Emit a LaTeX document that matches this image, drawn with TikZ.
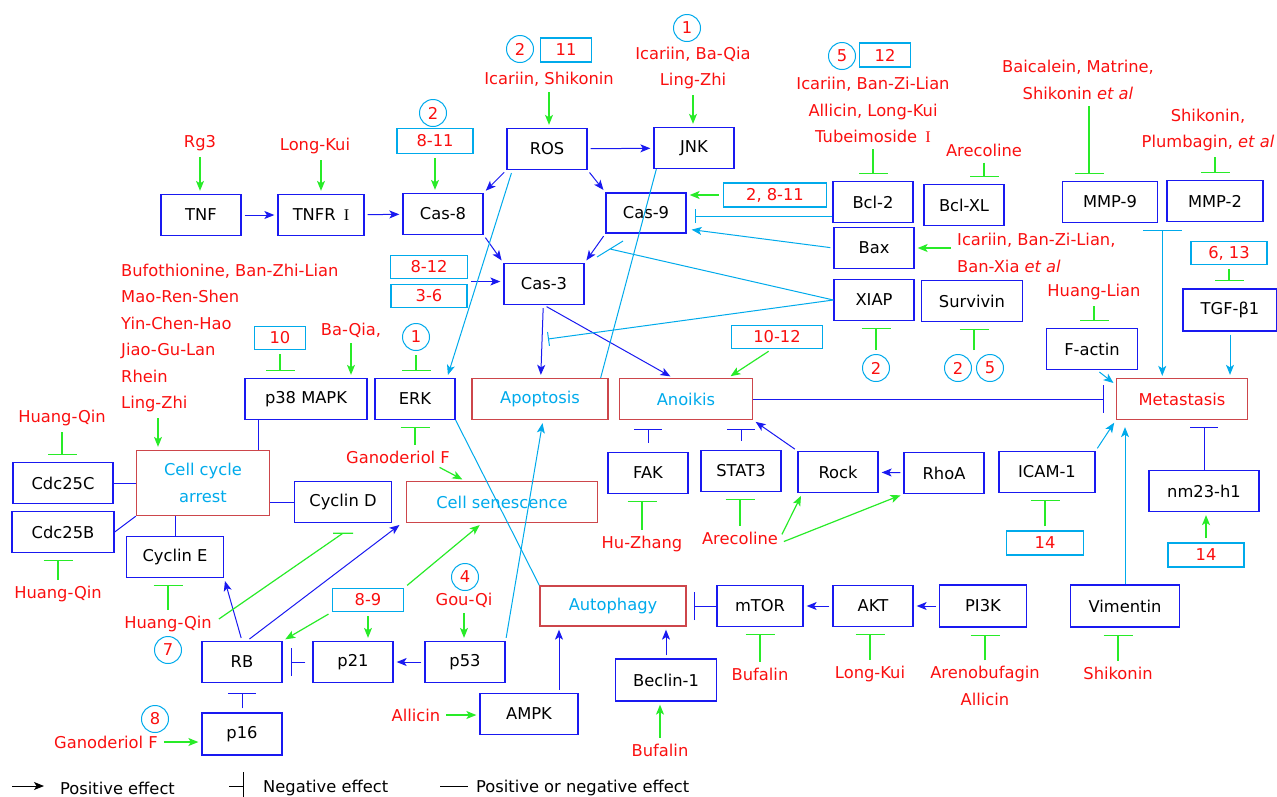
\documentclass[tikz,border=0pt]{standalone}
\usepackage{fontspec}
\setmainfont{DejaVu Sans}
\newfontfamily\romI{Liberation Serif}
\usetikzlibrary{arrows.meta,calc,positioning}
\definecolor{pblue}{RGB}{25,25,240}
\definecolor{lblue}{RGB}{0,170,235}
\definecolor{lgreen}{RGB}{40,235,40}
\definecolor{pred}{RGB}{205,70,75}
\definecolor{dred}{RGB}{250,15,15}

\begin{document}
\begin{tikzpicture}
  [x=1pt,y=-1pt,>={Stealth[length=10pt,width=8pt,inset=2.5pt]},
   every node/.style={font=\fontsize{16.3}{26.5}\selectfont,inner sep=2pt},
   prot/.style={draw=pblue,line width=1.3pt,minimum width=80pt,minimum height=41pt},
   proc/.style={draw=pred,line width=1.3pt,text=lblue,minimum height=41pt,align=center},
   refbox/.style={draw=lblue,line width=1.1pt,text=dred,minimum height=24pt},
   refnum/.style={circle,draw=lblue,line width=1pt,text=dred,minimum size=27pt,inner sep=0pt},
   drug/.style={text=dred,align=center},
   act/.style={pblue,line width=1pt,->,shorten >=3pt,shorten <=3pt},
   inh/.style={pblue,line width=1pt,-{Bar[width=28pt]},shorten >=8pt,shorten <=4pt},
   link/.style={pblue,line width=1pt},
   lact/.style={lblue,line width=1pt,->,shorten >=3pt,shorten <=3pt},
   linh/.style={lblue,line width=1pt,-{Bar[width=14pt]}},
   llink/.style={lblue,line width=1pt},
   gact/.style={lgreen,line width=1.2pt,->,shorten >=3pt,shorten <=4pt},
   ginh/.style={lgreen,line width=1.2pt,-{Bar[width=29pt]},shorten >=7pt,shorten <=4pt}]
  \useasboundingbox (0,0) rectangle (1277,796);

  \node[prot] (tnf) at (201,215) {TNF};
  \node[prot,minimum width=86pt] (tnfr) at (321,215) {TNFR\hspace{0.5em}{\romI I}};
  \node[prot] (cas8) at (443,214) {Cas-8};
  \node[prot] (ros) at (547,149) {ROS};
  \node[prot] (jnk) at (694,148) {JNK};
  \node[prot,minimum height=40pt] (cas9) at (646,213) {Cas-9};
  \node[prot] (cas3) at (544,284) {Cas-3};
  \node[prot] (bcl2) at (873,202) {Bcl-2};
  \node[prot] (bclxl) at (964,205) {Bcl-XL};
  \node[prot] (bax) at (874,248) {Bax};
  \node[prot] (xiap) at (874,300) {XIAP};
  \node[prot,minimum width=101pt] (surv) at (972,301) {Survivin};
  \node[prot,minimum width=95pt] (mmp9) at (1110,202) {MMP-9};
  \node[prot,minimum width=96pt] (mmp2) at (1215,201) {MMP-2};
  \node[prot,minimum width=94pt,minimum height=42pt] (tgf) at (1230,310) {TGF-β1};
  \node[prot,minimum width=91pt] (factin) at (1092,349) {F-actin};
  \node[prot,minimum width=122pt] (p38) at (306,399) {p38 MAPK};
  \node[prot] (erk) at (415,399) {ERK};
  \node[prot] (fak) at (648,473) {FAK};
  \node[prot] (stat3) at (741,471) {STAT3};
  \node[prot] (rock) at (838,472) {Rock};
  \node[prot] (rhoa) at (944,473) {RhoA};
  \node[prot,minimum width=96pt] (icam) at (1047,472) {ICAM-1};
  \node[prot,minimum width=110pt] (nm23) at (1204,491) {nm23-h1};
  \node[prot,minimum width=100pt] (cdc25c) at (63,483) {Cdc25C};
  \node[prot,minimum width=102pt] (cdc25b) at (63,532) {Cdc25B};
  \node[prot,minimum width=97pt] (cycd) at (343,502) {Cyclin D};
  \node[prot,minimum width=97pt] (cyce) at (175,557) {Cyclin E};
  \node[prot] (rb) at (242,662) {RB};
  \node[prot] (p21) at (353,662) {p21};
  \node[prot] (p53) at (465,662) {p53};
  \node[prot,minimum height=42pt] (p16) at (242,734) {p16};
  \node[prot,minimum width=98pt] (ampk) at (529,714) {AMPK};
  \node[prot,minimum width=101pt,minimum height=42pt] (beclin) at (666,680) {Beclin-1};
  \node[prot,minimum width=86pt] (mtor) at (760,606) {mTOR};
  \node[prot] (akt) at (873,606) {AKT};
  \node[prot,minimum width=87pt,minimum height=42pt] (pi3k) at (983,606) {PI3K};
  \node[prot,minimum width=109pt,minimum height=42pt] (vim) at (1125,606) {Vimentin};

  \node[proc,minimum width=136pt] (apop) at (540,399) {Apoptosis};
  \node[proc,minimum width=133pt] (anoikis) at (686,399) {Anoikis};
  \node[proc,minimum width=191pt] (senes) at (502,502) {Cell senescence};
  \node[proc,minimum width=133pt,minimum height=65pt] (arrest) at (203,483) {Cell cycle\\arrest};
  \node[proc,minimum width=146pt,minimum height=40pt] (autoph) at (613,606) {Autophagy};
  \node[proc,minimum width=131pt,text=dred] (meta) at (1182,399) {Metastasis};

  \node[refbox,minimum width=51pt] (r11) at (566,50) {11};
  \node[refbox,minimum width=76pt,minimum height=25pt] (r811) at (435,141) {8-11};
  \node[refbox,minimum width=103pt] (r2811) at (775,195) {2, 8-11};
  \node[refbox,minimum width=51pt] (r12) at (885,55) {12};
  \node[refbox,minimum width=76pt,minimum height=23pt] (r613) at (1229,253) {6, 13};
  \node[refbox,minimum width=77pt,minimum height=23pt] (r812) at (429,267) {8-12};
  \node[refbox,minimum width=76pt,minimum height=23pt] (r36) at (429,296) {3-6};
  \node[refbox,minimum width=51pt,minimum height=23pt] (r10) at (280,338) {10};
  \node[refbox,minimum width=91pt,minimum height=23pt] (r1012) at (777,337) {10-12};
  \node[refbox,minimum width=71pt,minimum height=23pt] (r89) at (368,600) {8-9};
  \node[refbox,minimum width=77pt] (r14a) at (1045,543) {14};
  \node[refbox,minimum width=76pt] (r14b) at (1206,555) {14};

  \node[refnum] (c2a) at (520,49) {2};
  \node[refnum] (c1a) at (687,28) {1};
  \node[refnum] (c2b) at (433,113) {2};
  \node[refnum] (c5a) at (842,56) {5};
  \node[refnum] (c1b) at (416,337) {1};
  \node[refnum] (c2c) at (876,368) {2};
  \node[refnum] (c2d) at (958,368) {2};
  \node[refnum] (c5b) at (990,368) {5};
  \node[refnum] (c4) at (465,577) {4};
  \node[refnum] (c7) at (168,650) {7};
  \node[refnum] (c8) at (155,719) {8};

  \node[drug] (rg3) at (200,143) {Rg3};
  \node[drug] (lk1) at (315,146) {Long-Kui};
  \node[drug] (icashi) at (549,79) {Icariin, Shikonin};
  \node[drug] (icaba) at (693,68) {Icariin, Ba-Qia\\Ling-Zhi};
  \node[drug] (icaban) at (873,110) {Icariin, Ban-Zi-Lian\\Allicin, Long-Kui\\Tubeimoside\hspace{0.5em}{\romI I}};
  \node[drug] (areco1) at (984,150) {Arecoline};
  \node[drug] (baica) at (1078,80) {Baicalein, Matrine,\\Shikonin \textit{et al}};
  \node[drug] (shiplu) at (1208,130) {Shikonin,\\Plumbagin, \textit{et al}};
  \node[drug,align=left,anchor=west] (icaban2) at (955,253) {Icariin, Ban-Zi-Lian,\\Ban-Xia \textit{et al}};
  \node[drug] (hlian) at (1094,292) {Huang-Lian};
  \node[drug,align=left,anchor=west] (bufo) at (119,338) {Bufothionine, Ban-Zhi-Lian\\Mao-Ren-Shen\\Yin-Chen-Hao\\Jiao-Gu-Lan\\Rhein\\Ling-Zhi};
  \node[drug] (hq1) at (62,418) {Huang-Qin};
  \node[drug] (baqia) at (351,330) {Ba-Qia,};
  \node[drug] (gano1) at (398,457) {Ganoderiol F};
  \node[drug] (huzhang) at (642,544) {Hu-Zhang};
  \node[drug] (areco2) at (740,538) {Arecoline};
  \node[drug] (hq2) at (58,594) {Huang-Qin};
  \node[drug] (hq3) at (168,624) {Huang-Qin};
  \node[drug] (gouqi) at (464,600) {Gou-Qi};
  \node[drug] (gano2) at (106,742) {Ganoderiol F};
  \node[drug] (allicin) at (416,715) {Allicin};
  \node[drug] (bufa1) at (760,674) {Bufalin};
  \node[drug] (lk2) at (870,674) {Long-Kui};
  \node[drug] (areno) at (985,686) {Arenobufagin\\Allicin};
  \node[drug] (shik) at (1118,673) {Shikonin};
  \node[drug] (bufa2) at (660,750) {Bufalin};

  \foreach \from/\to in {tnf/tnfr, tnfr/cas8, ros/jnk, rhoa/rock, p53/p21, akt/mtor, pi3k/akt, cas3/apop}
    \draw[act] (\from) -- (\to);
  \draw[act] (ros.south west) -- (cas8.north east);
  \draw[act] (ros.south east) -- (cas9.north west);
  \draw[act] (cas8.south east) -- (cas3.north west);
  \draw[act] (cas9.south west) -- (cas3.north east);
  \coordinate (r3mid) at ($(r812.south east)!.5!(r36.north east)$);
  \draw[act] (r3mid) -- (r3mid -| cas3.west);
  \draw[act] (cas3.south) -- ([xshift=-13pt]anoikis.north);
  \draw[act] (rock.north west) -- (anoikis.south east);
  \draw[act] (rb.north) -- (cyce.south east);
  \draw[act] ([xshift=5pt]rb.north) -- ([xshift=-4pt]senes.south west);
  \draw[act] ([xshift=30pt]ampk.north) -- ([xshift=30pt]ampk.north |- autoph.south);
  \draw[act] (beclin) -- (beclin |- autoph.south);

  \draw[inh,shorten <=0pt,shorten >=12pt] (anoikis) -- (meta);
  \draw[inh,shorten <=9pt,shorten >=9pt] (fak) -- (fak |- anoikis.south);
  \draw[inh,shorten <=9pt,shorten >=9pt] (stat3) -- (stat3 |- anoikis.south);
  \draw[inh,shorten <=0pt,shorten >=7pt] (nm23) -- (nm23 |- meta.south);
  \draw[inh,shorten <=7pt] (p21) -- (rb);
  \draw[inh,shorten >=10pt] (p16) -- (rb);
  \draw[inh,shorten <=0pt,shorten >=7pt] (mtor) -- (autoph);

  \draw[link] (cdc25c) -- (arrest);
  \draw[link] (cdc25b.east) -- (arrest.south west);
  \draw[link] (cycd.west -| arrest.east) -- (cycd.west);
  \draw[link] (cyce) -- (cyce |- arrest.south);
  \draw[link] ([xshift=-48pt]p38.south) -- ([xshift=-48pt]p38.south |- arrest.north);

  \draw[lact] ([xshift=6pt]ros.south west) -- ([xshift=32pt]erk.north);
  \draw[llink] ([xshift=3pt]jnk.south west) -- ([xshift=-8pt]apop.north east);
  \draw[linh,shorten >=8pt] ([yshift=-14pt]bcl2.west) -- ([yshift=-14pt]bcl2.west -| cas9.east);
  \draw[lact,shorten >=5pt] (bax.west) -- ([yshift=-16pt]cas9.east);
  \coordinate (xbar1) at (610,249);
  \coordinate (xbar2) at (548,339);
  \draw[llink] (xiap.west) -- (xbar1) ++(-13,8) -- ++(26,-16);
  \draw[linh] (xiap.west) -- (xbar2);
  \draw[lact] (p53.north east) -- ([xshift=3pt]apop.south);
  \draw[llink] (erk.south east) -- (autoph.north west);
  \draw[lact] ([xshift=5pt]factin.south) -- ([yshift=-7pt]meta.north west);
  \draw[lact] (tgf) -- (tgf |- meta.north);
  \draw[lact] (icam.north east) -- (meta.south west);
  \draw[lact,shorten <=0pt,shorten >=7pt] (vim) -- (vim |- meta.south);
  \coordinate (mmpj) at ($(mmp9.south east)!.5!(mmp2.south west)+(0,7)$);
  \draw[lblue,line width=1pt,{Bar[width=39pt]}->,shorten >=2pt] (mmpj) -- (mmpj |- meta.north);

  \draw[gact] (rg3) -- (rg3 |- tnf.north);
  \draw[gact] (tnfr.north |- lk1.south) -- (tnfr.north);
  \draw[gact] (r811) -- (r811 |- cas8.north);
  \draw[gact] (icashi) -- (icashi |- ros.north);
  \draw[gact] (icaba) -- (icaba |- jnk.north);
  \draw[gact] (r2811.west) -- (r2811.west -| cas9.east);
  \draw[gact] (bax.east -| icaban2.west) -- (bax.east);
  \draw[gact] ([xshift=-45pt]arrest.north |- bufo.south) -- ([xshift=-45pt]arrest.north);
  \draw[gact] (baqia) -- (baqia |- p38.north);
  \draw[gact] ([xshift=-16pt]gano1.south east) -- ([xshift=-37pt]senes.north);
  \draw[gact] ([xshift=-5pt]r1012.south) -- ([xshift=42pt]anoikis.north);
  \draw[gact] (areco2.east) -- ([xshift=5pt]rock.south west);
  \draw[gact] ([yshift=-5pt]areco2.east) -- (rhoa.south west);
  \draw[gact] (r89.north east) -- ([xshift=-20pt]senes.south);
  \draw[gact] (r89.south west) -- (rb.north east);
  \draw[gact] (r89) -- (r89 |- p21.north);
  \draw[gact] (gouqi) -- (gouqi |- p53.north);
  \draw[gact] (gano2.east) -- (gano2.east -| p16.west);
  \draw[gact] (allicin) -- (allicin -| ampk.west);
  \draw[gact] (bufa2) -- (bufa2 |- beclin.south);
  \draw[gact] (r14b) -- (r14b |- nm23.south);

  \draw[ginh] (r10) -- (r10 |- p38.north);
  \draw[ginh] (c1b) -- (c1b |- erk.north);
  \draw[ginh] (icaban) -- (icaban |- bcl2.north);
  \draw[ginh] (areco1) -- (areco1 |- bclxl.north);
  \draw[ginh] ([xshift=11pt]baica.south) -- ([xshift=11pt]baica.south |- mmp9.north);
  \draw[ginh] (mmp2.north |- shiplu.south) -- (mmp2.north);
  \draw[ginh] (r613) -- (r613 |- tgf.north);
  \draw[ginh] (hlian) -- (hlian |- factin.north);
  \draw[ginh] (c2c) -- (c2c |- xiap.south);
  \coordinate (c25) at ($(c2d.north)!.5!(c5b.north)$);
  \draw[ginh] (c25) -- (c25 |- surv.south);
  \draw[ginh] (erk.south |- gano1.north) -- (erk.south);
  \draw[ginh] (hq1) -- (hq1 |- cdc25c.north);
  \draw[ginh] (hq2) -- (hq2 |- cdc25b.south);
  \draw[ginh] (hq3) -- (hq3 |- cyce.south);
  \draw[ginh] (huzhang) -- (huzhang |- fak.south);
  \draw[ginh] (areco2) -- (areco2 |- stat3.south);
  \draw[ginh] (r14a) -- (r14a |- icam.south);
  \draw[ginh] (bufa1) -- (bufa1 |- mtor.south);
  \draw[ginh] (lk2) -- (lk2 |- akt.south);
  \draw[ginh] (areno) -- (areno |- pi3k.south);
  \draw[ginh] (shik) -- (shik |- vim.south);
  \coordinate (cydbar) at ([yshift=-10pt]cycd.south);
  \draw[lgreen,line width=1.2pt] ([xshift=5pt,yshift=5pt]hq3.east) -- (cydbar) ++(-10,0) -- ++(20,0);

  \node[anchor=west] (lpos) at (58,788) {Positive effect};
  \node[anchor=west] (lneg) at (261,788) {Negative effect};
  \node[anchor=west] (lany) at (474,788) {Positive or negative effect};
  \draw[line width=1pt,->] ([xshift=-46pt,yshift=2pt]lpos.west) -- ([xshift=-14pt,yshift=2pt]lpos.west);
  \draw[line width=1pt,-{Bar[width=28pt]}] ([xshift=-32pt,yshift=2pt]lneg.west) -- ([xshift=-17pt,yshift=2pt]lneg.west);
  \draw[line width=1pt] ([xshift=-34pt,yshift=2pt]lany.west) -- ([xshift=-6pt,yshift=2pt]lany.west);
\end{tikzpicture}
\end{document}
